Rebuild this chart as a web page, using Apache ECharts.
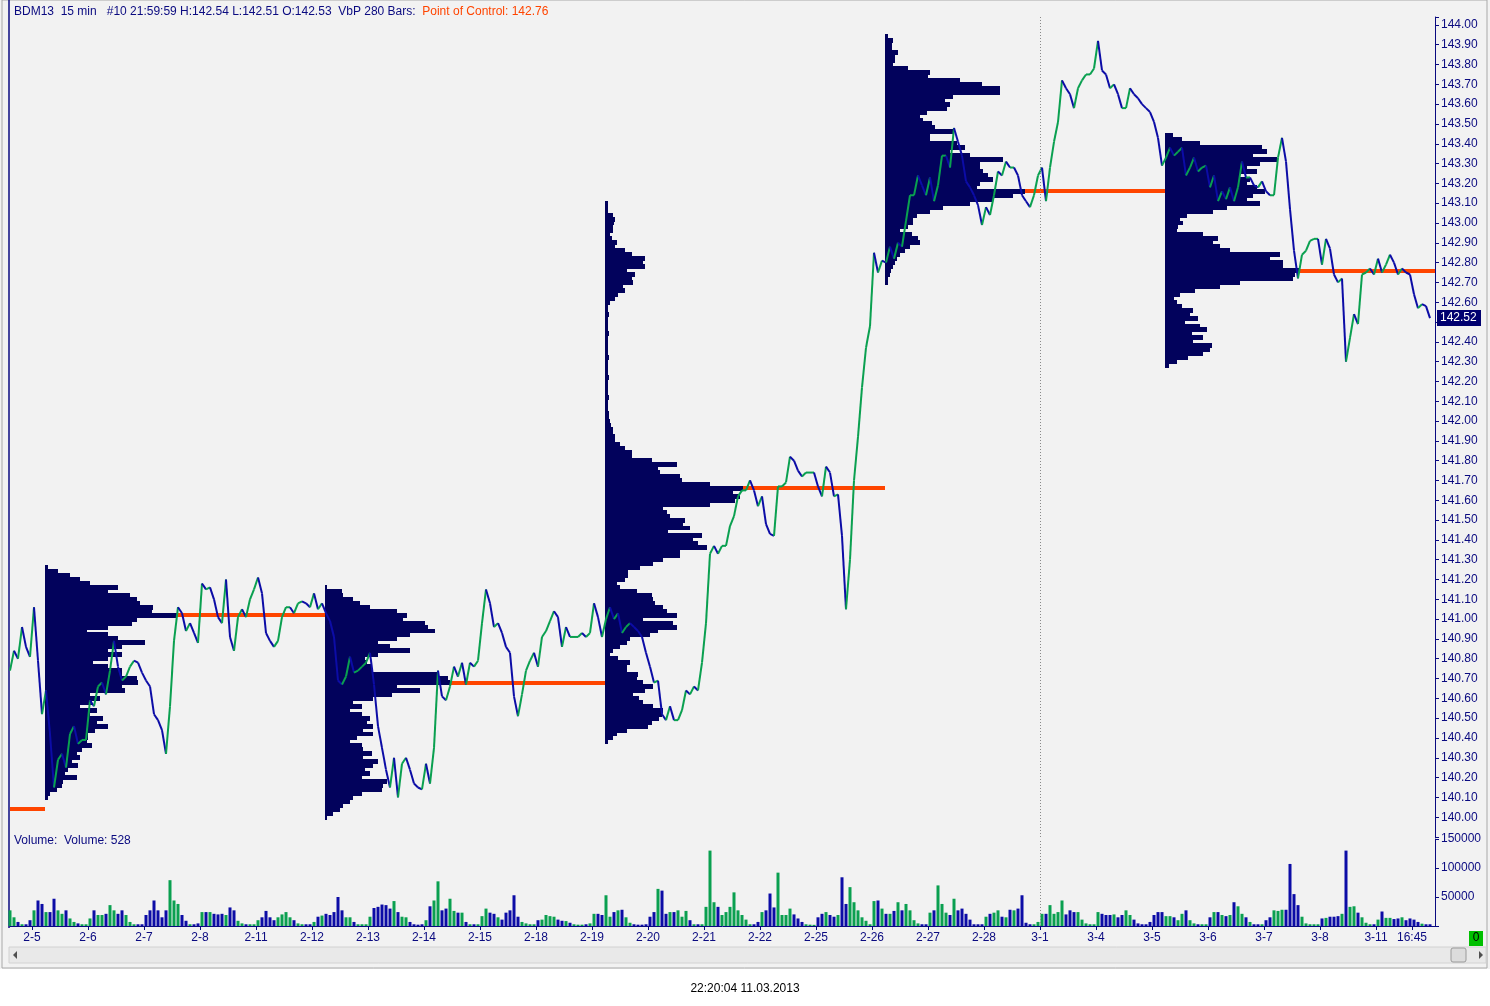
<!DOCTYPE html>
<html>
<head>
<meta charset="utf-8">
<title>BDM13 15 min - VbP</title>
<script src="https://cdn.jsdelivr.net/npm/echarts@6/dist/echarts.min.js"></script>
<style>
  html, body { margin: 0; padding: 0; background: #fff; }
  #chart { width: 1490px; height: 1006px; }
</style>
</head>
<body>
<div id="chart"></div>
<script>
// one sample every 4 bars (15 min bars)
const BAR_STEP = 4;
const closes = [
  140.74,140.84,140.80,140.96,140.86,140.81,141.06,140.79,140.52,140.64,140.42,140.15,140.29,140.32,140.25,140.42,140.46,140.37,140.39,140.39,140.59,140.56,140.66,140.68,
  140.62,140.74,140.89,140.76,140.69,140.71,140.76,140.79,140.78,140.73,140.69,140.66,140.52,140.49,140.44,140.32,140.56,140.89,141.06,141.03,140.94,140.98,140.93,140.88,
  141.18,141.15,141.16,141.10,141.01,140.98,141.20,140.91,140.84,141.01,141.05,141.01,141.10,141.15,141.21,141.13,140.93,140.89,140.86,140.89,141.01,141.06,141.06,141.03,
  141.08,141.09,141.08,141.06,141.13,141.05,141.08,141.03,140.99,140.91,140.69,140.67,140.71,140.81,140.73,140.74,140.76,140.78,140.83,140.67,140.46,140.35,140.24,140.15,
  140.30,140.10,140.27,140.30,140.24,140.17,140.15,140.14,140.27,140.17,140.35,140.74,140.61,140.59,140.66,140.76,140.71,140.78,140.67,140.78,140.76,140.79,140.98,141.15,
  141.08,140.96,140.98,140.93,140.86,140.83,140.61,140.51,140.62,140.74,140.79,140.83,140.76,140.91,140.94,140.99,141.04,141.01,140.86,140.96,140.91,140.91,140.91,140.93,
  140.91,140.93,141.08,141.01,140.91,141.00,141.06,141.00,141.03,140.93,140.96,140.98,140.96,140.94,140.91,140.83,140.76,140.68,140.69,140.52,140.49,140.56,140.49,140.49,
  140.54,140.64,140.62,140.66,140.64,140.78,140.98,141.33,141.37,141.33,141.37,141.37,141.47,141.52,141.62,141.65,141.65,141.70,141.65,141.57,141.62,141.48,141.43,141.42,
  141.67,141.67,141.69,141.82,141.80,141.75,141.72,141.74,141.74,141.74,141.67,141.62,141.77,141.74,141.62,141.63,141.42,141.05,141.30,141.70,141.92,142.17,142.37,142.48,
  142.85,142.75,142.81,142.80,142.88,142.82,142.90,142.88,143.01,143.14,143.14,143.24,143.19,143.14,143.23,143.11,143.19,143.34,143.34,143.28,143.48,143.41,143.34,143.21,
  143.18,143.14,143.09,142.99,143.08,143.04,143.14,143.26,143.24,143.31,143.28,143.28,143.24,143.14,143.11,143.08,143.14,143.24,143.28,143.11,143.28,143.41,143.51,143.72,
  143.68,143.65,143.58,143.68,143.72,143.75,143.75,143.78,143.92,143.77,143.75,143.68,143.70,143.65,143.58,143.58,143.68,143.65,143.63,143.60,143.58,143.56,143.51,143.43,
  143.29,143.33,143.38,143.34,143.36,143.38,143.24,143.28,143.33,143.26,143.28,143.29,143.18,143.24,143.11,143.16,143.12,143.18,143.11,143.18,143.31,143.23,143.23,143.19,
  143.18,143.21,143.16,143.14,143.14,143.33,143.43,143.31,143.07,142.86,142.72,142.84,142.86,142.91,142.92,142.92,142.79,142.92,142.87,142.74,142.70,142.72,142.30,142.42,
  142.54,142.49,142.74,142.75,142.77,142.74,142.82,142.75,142.79,142.84,142.80,142.74,142.77,142.75,142.74,142.64,142.57,142.59,142.58,142.52
];

// volume per sample, in thousands of contracts
const volK = [
  27,15,7,3,3,10,27,44,38,24,24,47,27,21,27,13,7,4.5,3,3,13,27,19,19,
  21,36,27,21,27,19,7,3,3,3,19,27,44,27,15,27,79,44,38,19,9,3,3,4.5,
  24,24,24,21,20,21,19,32,27,9,4.5,3,3,3,10,15,26,15,10,15,20,24,15,10,
  4.5,3,3,3,7,16,18,21,19,24,50,27,15,15,7,3,3,3,16,31,33,37,36,30,
  43,24,16,15,7,3,2.3,3,10,34,44,77,27,30,47,26,23,23,7,3,3,3,17,30,
  23,21,15,11,23,27,53,16,7,4.5,3,3,10,11,19,17,16,11,9,8.5,5.6,3,2.3,2.3,
  3,4.5,21,21,19,53,16,24,27,28,15,5.6,3,2.3,2.3,3,16,24,64,61,21,24,24,27,
  16,26,10,3,3,3,33,130,41,33,19,24,33,58,27,19,11,3,3,7,24,27,56,32,
  92,19,19,30,20,13,7,3,2.3,2,15,21,24,19,16,19,84,38,67,41,27,15,9,3,
  43,44,30,21,21,26,41,27,38,27,10,4.5,3,3,23,27,70,38,23,19,47,27,30,21,
  11,3,3,3,16,21,23,27,16,15,28,27,30,53,5.6,3,3,7,21,21,36,21,24,44,
  20,27,24,24,11,4.5,3,3,24,21,19,19,20,15,19,27,19,11,4.5,3,3,7,19,24,
  24,17,17,15,10,21,27,10,4.5,3,3,3,15,24,24,19,17,19,41,34,21,15,7,3,
  3,3,10,15,27,26,28,28,107,55,36,16,4.5,3,3,3,13,14,16,16,17,21,130,33,
  34,23,15,5.6,3,3,11,25,14,14,12,13,15,10,13,11,7,4,3,3
];

const dayLabels = ['2-5','2-6','2-7','2-8','2-11','2-12','2-13','2-14','2-15','2-18','2-19','2-20','2-21',
  '2-22','2-25','2-26','2-27','2-28','3-1','3-4','3-5','3-6','3-7','3-8','3-11'];
const lastTimeLabel = '16:45';

// volume by price, 280 bars per profile, one level every 0.02 (relative volume)
const VBP_BARS = 280;
const VBP_TICK = 0.02;
const vbpStart = [35, 315, 595, 875, 1155];
const vbpLow = [140.10, 140.00, 140.38, 142.70, 142.28];
const vbp1 = [3,5,12,17,18,32,20,23,33,27,35,32,37,47,42,43,43,50,63,52,58,45,52,35,47,55,45,80,77,93,
  92,77,77,63,48,63,77,63,77,100,73,63,42,63,87,92,132,107,108,95,92,85,63,73,45,35,25,13,3];
const vbp2 = [2,8,15,18,25,28,37,57,58,62,37,45,40,48,53,38,47,38,37,25,32,48,38,48,42,45,37,25,37,28,
  48,67,95,72,125,123,112,48,47,42,40,53,85,65,53,72,85,110,103,100,78,82,72,45,35,28,18,17,2];
const vbp3 = [3,8,12,22,43,47,54,57,58,48, 38,34,28,40,48,38,32,33,22,22, 25,13,5,8,15,22,25,45,53,72,
  68,38,72,62,58,50,48,47,32,15, 12,20,23,23,35,48,58,75,75,102, 93,88,97,63,85,78,80,65,62,58,
  105,130,135,128,138,105,77,75,55,53, 72,47,27,27,20,15,10,10,8,8, 6,5,4,4,3,3,3,4,3,3,
  3,3,4,3,3,3,3,4,3,3, 3,3,3,4,3,3,3,3,4,3, 3,5,10,13,20,18,28,27,30,22, 40,38,40,27,20,10,12,7,5,8,
  8,9,10,8,3,3,3];
const vbp4 = [3,3,5,6,8,10,12,15,20,25, 35,33,27,15,23,28,28,32,45,58, 85,108,128,140,92,95,108,103,98,95,
  95,118,85,65,80,72,45,45,68,50, 47,38,35,42,62,65,60,68,115,115, 97,75,43,45,23,8,10,10,13,7, 7,8,3];
const vbp5 = [4,12,23,38,45,47,28,38,27,42, 35,20,33,25,28,17,12,9,15,30, 55,75,128,130,135,118,118,105,115,65,
  55,48,53,38,12,13,18,15,22,48, 62,95,82,88,100,92,82,85,75,92, 82,95,112,88,102,97,35,17,8];
const profiles = [vbp1, vbp2, vbp3, vbp4, vbp5];
const prevPoc = 140.04;     // POC of the profile before the visible range
const lastPrice = 142.52;

const X_MAX = 1425;
const FIRST_DAY_BAR = 22, BARS_PER_DAY = 56, LAST_TIME_BAR = 1402;

const NAVY = '#0a0a80';
const BLUE = '#0c0ca6';
const GREEN = '#0aa050';
const PROFILE = '#02025c';
const POC = '#ff4500';
const FONT = '12px "Liberation Sans", Arial, sans-serif';

// ---- build what the series need
const xs = closes.map((_, i) => i * BAR_STEP);
const segments = [];
for (let i = 1; i < closes.length; i++) {
  segments.push([xs[i - 1], closes[i - 1], xs[i], closes[i]]);
}
const volData = volK.map((v, i) => ({
  value: [xs[i], v * 1000],
  itemStyle: { color: (i > 0 && closes[i] < closes[i - 1]) ? BLUE : GREEN }
}));

const profileData = [];
const pocData = [[0, vbpStart[0], prevPoc]];
profiles.forEach((arr, k) => {
  let best = 0;
  arr.forEach((v, j) => {
    profileData.push([vbpStart[k], vbpLow[k] + j * VBP_TICK, v]);
    if (v > arr[best]) best = j;
  });
  pocData.push([vbpStart[k] + arr[best], Math.min(vbpStart[k] + VBP_BARS, X_MAX), vbpLow[k] + best * VBP_TICK]);
});

const tickLabels = dayLabels.concat([lastTimeLabel]);
const tickPos = dayLabels.map((d, i) => FIRST_DAY_BAR + i * BARS_PER_DAY).concat([LAST_TIME_BAR]);
const monthBar = tickPos[dayLabels.findIndex(d => d.startsWith('3-'))];

const chart = echarts.init(document.getElementById('chart'));

const axisCommon = {
  axisLine: { show: true, onZero: false, lineStyle: { color: NAVY } },
  axisTick: { show: true, length: 4, lineStyle: { color: NAVY } },
  splitLine: { show: false }
};

const option = {
  animation: false,
  backgroundColor: '#f2f2f2',
  textStyle: { fontFamily: '"Liberation Sans", Arial, sans-serif' },
  grid: [
    { left: 10, right: 55, top: 17, height: 820 },
    { left: 10, right: 55, top: 839, height: 87 }
  ],
  xAxis: [
    { gridIndex: 0, type: 'value', min: 0, max: X_MAX, show: false },
    Object.assign({}, axisCommon, {
      gridIndex: 1, type: 'value', min: 0, max: X_MAX,
      axisTick: { show: true, length: 4, customValues: tickPos, lineStyle: { color: NAVY } },
      axisLabel: {
        customValues: tickPos, color: NAVY, fontSize: 12, margin: 6,
        formatter: v => tickLabels[tickPos.indexOf(v)] || ''
      }
    })
  ],
  yAxis: [
    Object.assign({}, axisCommon, {
      gridIndex: 0, type: 'value', position: 'right', min: 139.9, max: 144.04, interval: 0.1,
      axisLabel: {
        color: NAVY, fontSize: 12, margin: 6,
        formatter: v => (v < 139.95 || v > 144.005) ? '' : v.toFixed(2)
      }
    }),
    Object.assign({}, axisCommon, {
      gridIndex: 1, type: 'value', position: 'right', min: 0, max: 150000, interval: 50000,
      axisLabel: { color: NAVY, fontSize: 12, margin: 6, formatter: v => v === 0 ? '' : String(v) }
    })
  ],
  series: [
    {
      // volume by price histograms
      type: 'custom', xAxisIndex: 0, yAxisIndex: 0, z: 2,
      data: profileData,
      renderItem: function (params, api) {
        const x0 = api.value(0), p = api.value(1), w = api.value(2);
        const a = api.coord([x0, p + VBP_TICK / 2]);
        const b = api.coord([x0 + w, p - VBP_TICK / 2]);
        const top = Math.floor(a[1]), bottom = Math.ceil(b[1]);
        return {
          type: 'rect',
          shape: { x: Math.round(a[0]), y: top, width: Math.round(b[0] - a[0]), height: bottom - top },
          style: { fill: PROFILE }
        };
      }
    },
    {
      // point of control lines
      type: 'custom', xAxisIndex: 0, yAxisIndex: 0, z: 3,
      data: pocData,
      renderItem: function (params, api) {
        const a = api.coord([api.value(0), api.value(2)]);
        const b = api.coord([api.value(1), api.value(2)]);
        return {
          type: 'rect',
          shape: { x: a[0], y: Math.round(a[1]) - 2, width: b[0] - a[0], height: 4 },
          style: { fill: POC }
        };
      }
    },
    {
      // price, green on up moves, blue on down moves
      type: 'custom', xAxisIndex: 0, yAxisIndex: 0, z: 4,
      data: segments,
      renderItem: function (params, api) {
        const a = api.coord([api.value(0), api.value(1)]);
        const b = api.coord([api.value(2), api.value(3)]);
        return {
          type: 'line',
          shape: { x1: a[0], y1: a[1], x2: b[0], y2: b[1] },
          style: { stroke: api.value(3) >= api.value(1) ? GREEN : BLUE, lineWidth: 2 }
        };
      }
    },
    {
      type: 'line', xAxisIndex: 0, yAxisIndex: 0, z: 5,
      data: [[xs[xs.length - 1], lastPrice]],
      showSymbol: false, lineStyle: { opacity: 0 },
      markLine: {
        silent: true, symbol: ['none', 'none'],
        data: [{ xAxis: monthBar, lineStyle: { color: '#8a8a8a', type: [1, 2], width: 1 }, label: { show: false } }]
      }
    },
    {
      type: 'bar', xAxisIndex: 1, yAxisIndex: 1,
      data: volData, barWidth: 3,
      markLine: {
        silent: true, symbol: ['none', 'none'],
        data: [{ xAxis: monthBar, lineStyle: { color: '#8a8a8a', type: [1, 2], width: 1 }, label: { show: false } }]
      }
    }
  ],
  graphic: [
    { type: 'rect', shape: { x: 0, y: 969, width: 1490, height: 37 }, style: { fill: '#ffffff' }, z: -1 },
    { type: 'rect', shape: { x: 2, y: 0, width: 1485, height: 968 }, style: { fill: 'none', stroke: '#a8a8a8', lineWidth: 1 } },
    { type: 'line', shape: { x1: 9, y1: 0, x2: 9, y2: 928 }, style: { stroke: NAVY, lineWidth: 1.5 } },
    { type: 'rect', shape: { x: 9, y: 947, width: 1477, height: 16 }, style: { fill: '#e9e9e9', stroke: '#d2d2d2' } },
    { type: 'polygon', shape: { points: [[13, 955], [17, 951], [17, 959]] }, style: { fill: '#505050' } },
    { type: 'rect', shape: { x: 1451, y: 948, width: 15, height: 14, r: 2 }, style: { fill: '#dcdcdc', stroke: '#9a9a9a' } },
    { type: 'polygon', shape: { points: [[1479, 951], [1483, 955], [1479, 959]] }, style: { fill: '#505050' } },
    { type: 'rect', shape: { x: 1469, y: 931, width: 14, height: 15 }, style: { fill: '#00c000' } },
    { type: 'text', x: 1476, y: 938, style: { text: '0', fill: '#000', font: FONT, textAlign: 'center', textVerticalAlign: 'middle' } },
    { type: 'text', x: 745, y: 989, style: { text: '22:20:04 11.03.2013', fill: '#000', font: FONT, textAlign: 'center', textVerticalAlign: 'middle' } },
    { type: 'text', x: 14, y: 841, style: { text: 'Volume:  Volume: 528', fill: NAVY, font: FONT, textVerticalAlign: 'middle' } },
    {
      type: 'text', x: 14, y: 12,
      style: {
        text: '{a|BDM13  15 min   #10 21:59:59 H:142.54 L:142.51 O:142.53  VbP 280 Bars:}  {b|Point of Control: 142.76}',
        textVerticalAlign: 'middle',
        rich: {
          a: { fill: NAVY, font: FONT },
          b: { fill: POC, font: FONT }
        }
      }
    }
  ]
};

chart.setOption(option);

// last price tag on the price axis
const tagY = chart.convertToPixel({ yAxisIndex: 0 }, lastPrice);
const axisX = chart.convertToPixel({ xAxisIndex: 0 }, X_MAX);
chart.setOption({
  graphic: option.graphic.concat([
    { type: 'rect', shape: { x: axisX + 2, y: Math.round(tagY) - 8, width: 44, height: 16 }, style: { fill: '#000070' }, z: 10 },
    { type: 'text', x: axisX + 5, y: Math.round(tagY), z: 11,
      style: { text: lastPrice.toFixed(2), fill: '#ffffff', font: FONT, textVerticalAlign: 'middle' } }
  ])
});
</script>
</body>
</html>
